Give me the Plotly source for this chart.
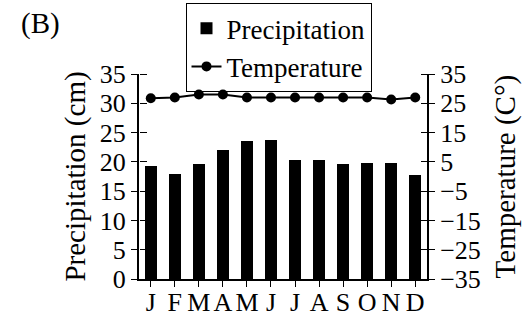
import plotly.graph_objects as go

months = ["J", "F", "M", "A", "M", "J", "J", "A", "S", "O", "N", "D"]
precip = [19.3, 17.9, 19.7, 22.1, 23.5, 23.7, 20.4, 20.3, 19.6, 19.8, 19.8, 17.8]
temp = [26.7, 27.0, 28.0, 28.0, 27.0, 27.0, 27.0, 27.0, 27.0, 27.0, 26.3, 27.0]
left_ticks = [0, 5, 10, 15, 20, 25, 30, 35]
right_ticks = [-35, -25, -15, -5, 5, 15, 25, 35]
right_labels = ["\u221235", "\u221225", "\u221215", "\u22125", "5", "15", "25", "35"]

x = list(range(len(months)))
FONT = "Liberation Serif"


def f(size):
    return dict(family=FONT, size=size, color="black")


fig = go.Figure()
fig.add_trace(go.Bar(x=x, y=precip, name="Precipitation", marker=dict(color="black", line=dict(width=0)),
                     width=0.48, yaxis="y"))
fig.add_trace(go.Scatter(x=x, y=temp, name="Temperature", mode="lines+markers",
                         line=dict(color="black", width=2), marker=dict(color="black", size=10),
                         yaxis="y2"))
# helper traces to activate the overlay axes used for inward tick marks
fig.add_trace(go.Scatter(x=[None], y=[None], yaxis="y3", showlegend=False, hoverinfo="skip"))
fig.add_trace(go.Scatter(x=[None], y=[None], yaxis="y4", showlegend=False, hoverinfo="skip"))

common = dict(showgrid=False, zeroline=False, automargin=False, tickcolor="black", tickwidth=1)

fig.update_layout(
    template="none",
    width=524, height=323,
    margin=dict(l=139, r=97, t=74, b=44, autoexpand=False),
    paper_bgcolor="white", plot_bgcolor="white",
    font=f(24),
    bargap=0,
    showlegend=True,
    legend=dict(xref="container", yref="container", x=0.5315, y=0.99, xanchor="center", yanchor="top",
                bordercolor="black", borderwidth=1, font=f(27),
                tracegroupgap=0, itemwidth=30, bgcolor="rgba(0,0,0,0)"),
    xaxis=dict(range=[-0.49, 11.49], tickmode="array", tickvals=x, ticktext=months,
               showline=True, linecolor="black", linewidth=2, ticks="outside", ticklen=6,
               tickfont=f(26), **common),
    yaxis=dict(range=[0, 35], tickvals=left_ticks, showline=True, linecolor="black", linewidth=2,
               ticks="outside", ticklen=6, tickfont=f(26), **common),
    yaxis2=dict(range=[-35, 35], tickvals=right_ticks, ticktext=right_labels, overlaying="y",
                side="right", showline=True, linecolor="black", linewidth=2, ticks="outside",
                ticklen=6, tickfont=f(26), **common),
    yaxis3=dict(range=[0, 35], tickvals=left_ticks, overlaying="y", side="right", anchor="free",
                position=0, ticks="outside", ticklen=7, showticklabels=False, showline=False,
                **common),
    yaxis4=dict(range=[-35, 35], tickvals=right_ticks, overlaying="y", side="left", anchor="free",
                position=1, ticks="outside", ticklen=6, showticklabels=False, showline=False,
                **common),
    annotations=[
        dict(text="(B)", xref="paper", yref="paper", x=-0.418, y=1.335, xanchor="left",
             yanchor="top", showarrow=False, font=f(29)),
        dict(text="Precipitation (cm)", xref="paper", yref="paper", x=-0.222, y=0.5,
             xanchor="center", yanchor="middle",
             textangle=-90, showarrow=False, font=f(29)),
        dict(text="Temperature (C\u00b0)", xref="paper", yref="paper", x=1.274, y=0.5,
             xanchor="center", yanchor="middle",
             textangle=-90, showarrow=False, font=f(29)),
    ],
)
try:
    fig.update_xaxes(ticklabelstandoff=-7)
except Exception:
    pass

fig.write_html("out.html")
